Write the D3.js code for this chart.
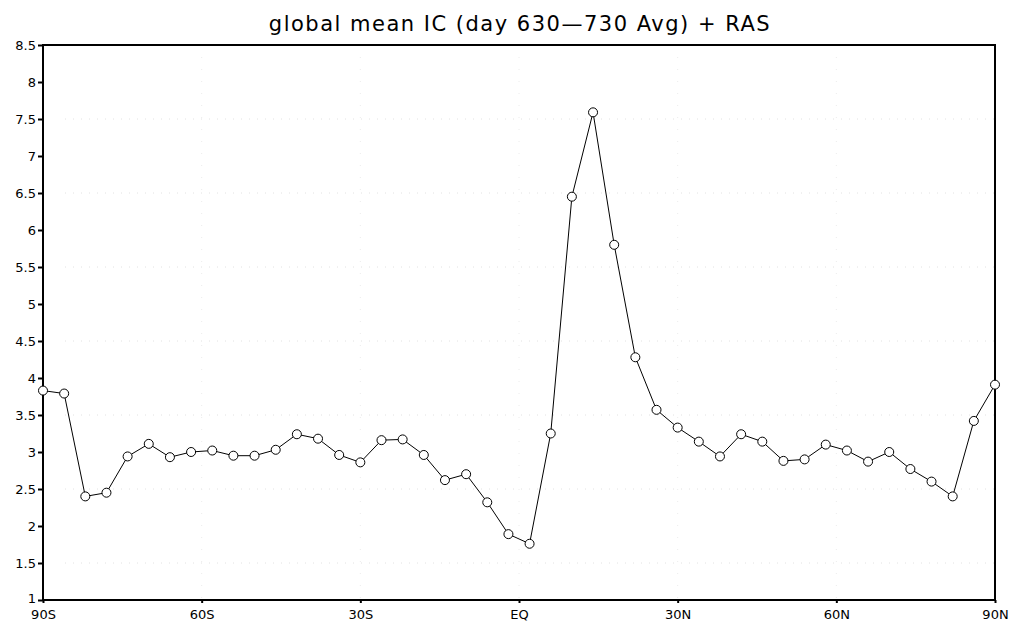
<!DOCTYPE html>
<html>
<head>
<meta charset="utf-8">
<script src="https://cdn.jsdelivr.net/npm/d3@7"></script>
<style>
  body { margin: 0; background: #fff; }
  text { font-family: "DejaVu Sans", sans-serif; fill: #000; }
</style>
</head>
<body>
<svg id="chart" width="1021" height="621"></svg>
<script>
// latitudes (every 4 degrees) and the plotted values
const lats = d3.range(-90, 91, 4);
const values = [3.83, 3.79, 2.40, 2.45, 2.94, 3.11, 2.93, 3.00, 3.02, 2.95, 2.95, 3.03,
    3.24, 3.18, 2.96, 2.86, 3.16, 3.17, 2.96, 2.62, 2.70, 2.32, 1.89, 1.76,
    3.25, 6.45, 7.59, 5.80, 4.28, 3.57, 3.33, 3.14, 2.94, 3.24, 3.14, 2.88,
    2.90, 3.10, 3.02, 2.87, 3.00, 2.77, 2.60, 2.40, 3.42, 3.91];
const xTicks = [-90, -60, -30, 0, 30, 60, 90];
const xTickLabels = ["90S", "60S", "30S", "EQ", "30N", "60N", "90N"];
const yTicks = d3.range(1, 8.51, 0.5);
const gridY = [1.5, 2.5, 3.5, 4.5, 5.5, 6.5, 7.5];
const title = "global mean IC (day 630\u2014730 Avg) + RAS";

const data = lats.map((lat, i) => ({ lat, v: values[i] }));

const plotLeft = 43, plotRight = 995, plotTop = 45, plotBottom = 600;

const x = d3.scaleLinear().domain([-90, 90]).range([plotLeft, plotRight]);
const y = d3.scaleLinear().domain([1, 8.5]).range([plotBottom, plotTop]);

const svg = d3.select("#chart");

// Dotted grid lines (very faint, like the original)
svg.append("g")
    .selectAll("line")
    .data(gridY)
    .join("line")
    .attr("x1", plotLeft + 22).attr("x2", plotRight)
    .attr("y1", d => y(d)).attr("y2", d => y(d))
    .attr("stroke", "#e2e2e2")
    .attr("stroke-width", 1)
    .attr("stroke-dasharray", "1,7");

svg.append("g")
    .selectAll("line")
    .data(xTicks.slice(1, -1))
    .join("line")
    .attr("x1", d => x(d)).attr("x2", d => x(d))
    .attr("y1", plotTop).attr("y2", plotBottom)
    .attr("stroke", "#ececec")
    .attr("stroke-width", 1)
    .attr("stroke-dasharray", "1,11");

// Axes
const yAxis = d3.axisLeft(y).tickValues(yTicks).tickSize(5).tickPadding(2)
    .tickFormat(d => d3.format("~g")(d));
const gy = svg.append("g").attr("transform", `translate(${plotLeft},0)`).call(yAxis);

const xAxis = d3.axisBottom(x).tickValues(xTicks).tickSize(3).tickPadding(6)
    .tickFormat((d, i) => xTickLabels[i]);
const gx = svg.append("g").attr("transform", `translate(0,${plotBottom})`).call(xAxis);

[gx, gy].forEach(g => {
    g.select(".domain").remove();
    g.selectAll(".tick line").attr("stroke", "#000").attr("stroke-width", 2);
    g.selectAll(".tick text").style("font-size", "13px").attr("fill", "#000");
});
gx.selectAll(".tick text").attr("dy", "0.75em");
// bottom y label sits right above the 90S label; lift it a touch
gy.selectAll(".tick text").filter(d => d === 1).attr("dy", "0.2em");

// Frame
svg.append("rect")
    .attr("x", plotLeft).attr("y", plotTop)
    .attr("width", plotRight - plotLeft).attr("height", plotBottom - plotTop)
    .attr("fill", "none").attr("stroke", "#000").attr("stroke-width", 2);

// Line
const line = d3.line().x(d => x(d.lat)).y(d => y(d.v));
svg.append("path")
    .datum(data)
    .attr("d", line)
    .attr("fill", "none")
    .attr("stroke", "#000")
    .attr("stroke-width", 1);

// Markers
svg.append("g")
    .selectAll("circle")
    .data(data)
    .join("circle")
    .attr("cx", d => x(d.lat))
    .attr("cy", d => y(d.v))
    .attr("r", 4.5)
    .attr("fill", "#fff")
    .attr("stroke", "#000")
    .attr("stroke-width", 1);

// Title
svg.append("text")
    .attr("x", 520).attr("y", 31)
    .attr("text-anchor", "middle")
    .style("font-size", "21px")
    .style("letter-spacing", "1.5px")
    .text(title);
</script>
</body>
</html>
